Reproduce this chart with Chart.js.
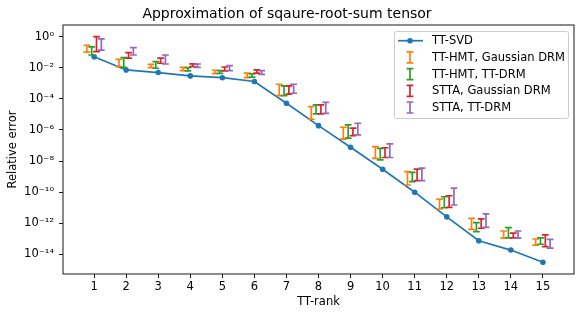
<!DOCTYPE html>
<html>
<head>
<meta charset="utf-8">
<script src="https://cdn.jsdelivr.net/npm/chart.js@4/dist/chart.umd.min.js"></script>
<style>
    html, body { margin: 0; padding: 0; background: #fff; }
    #chart { display: block; }
</style>
</head>
<body>
<canvas id="chart" width="582" height="317"></canvas>
<script>
const ranks = [1, 2, 3, 4, 5, 6, 7, 8, 9, 10, 11, 12, 13, 14, 15];

const ttSvd = [0.051, 7.2e-3, 4.9e-3, 3.0e-3, 2.3e-3, 1.3e-3, 5.2e-5, 1.9e-6, 7.7e-8, 3.0e-9, 1.0e-10, 2.6e-12, 7.5e-14, 1.9e-14, 3.1e-15];

// error bar ranges (low / high)
const hmtGaussLow  = [0.10, 0.0117, 0.0102, 0.0066, 0.0042, 0.0023, 1.6e-4, 4.9e-6, 2.6e-7, 1.5e-8, 2.9e-10, 8.3e-12, 4.1e-13, 1.1e-13, 4.0e-14];
const hmtGaussHigh = [0.28, 0.035, 0.0166, 0.0107, 0.0069, 0.0045, 8.7e-4, 3.2e-5, 1.5e-6, 8.5e-8, 2.1e-9, 3.6e-11, 2.1e-12, 3.2e-13, 9.8e-14];

const hmtTtLow  = [0.066, 0.0107, 0.0093, 0.0063, 0.0044, 0.0025, 1.6e-4, 1.07e-5, 3.0e-7, 1.2e-8, 4.8e-10, 1.0e-11, 2.9e-13, 1.17e-13, 4.5e-14];
const hmtTtHigh = [0.22, 0.045, 0.0245, 0.0102, 0.0066, 0.0040, 6.8e-4, 4.1e-5, 2.1e-6, 6.6e-8, 1.9e-9, 5.1e-11, 1.1e-12, 5.2e-13, 1.17e-13];

const sttaGaussLow  = [0.11, 0.041, 0.0195, 0.0117, 0.0063, 0.0045, 2.0e-4, 1.07e-5, 4.3e-7, 1.7e-8, 5.5e-10, 1.07e-11, 4.8e-13, 1.17e-13, 3.2e-14];
const sttaGaussHigh = [1.0, 0.093, 0.041, 0.018, 0.0112, 0.0072, 6.8e-4, 4.1e-5, 1.3e-6, 7.2e-8, 3.0e-9, 5.9e-11, 1.9e-12, 2.3e-13, 1.8e-13];

const sttaTtLow  = [0.135, 0.066, 0.0174, 0.0107, 0.0065, 0.0038, 2.3e-4, 1.17e-5, 4.8e-7, 1.7e-8, 5.5e-10, 1.5e-11, 5.5e-13, 1.1e-13, 2.5e-14];
const sttaTtHigh = [0.71, 0.195, 0.066, 0.0174, 0.0138, 0.0065, 8.7e-4, 6.0e-5, 2.7e-6, 1.26e-7, 3.5e-9, 1.8e-10, 4.0e-12, 3.2e-13, 9.3e-14];

const yTickValues = [1, 1e-2, 1e-4, 1e-6, 1e-8, 1e-10, 1e-12, 1e-14];
const yTickLabels = ['10⁰', '10⁻²', '10⁻⁴', '10⁻⁶', '10⁻⁸', '10⁻¹⁰', '10⁻¹²', '10⁻¹⁴'];

const FONT = 'DejaVu Sans';
const FS = 11.5;

const errorSeries = [
    { label: 'TT-HMT, Gaussian DRM', color: '#ff7f0e', offset: -0.225, low: hmtGaussLow, high: hmtGaussHigh },
    { label: 'TT-HMT, TT-DRM', color: '#2ca02c', offset: -0.075, low: hmtTtLow, high: hmtTtHigh },
    { label: 'STTA, Gaussian DRM', color: '#d62728', offset: 0.075, low: sttaGaussLow, high: sttaGaussHigh },
    { label: 'STTA, TT-DRM', color: '#9467bd', offset: 0.225, low: sttaTtLow, high: sttaTtHigh }
];

const errorBarPlugin = {
    id: 'errorBars',
    afterDatasetsDraw(chart) {
        const { ctx, scales: { x, y } } = chart;
        ctx.save();
        ctx.lineWidth = 1.7;
        errorSeries.forEach(s => {
            ctx.strokeStyle = s.color;
            ranks.forEach((r, i) => {
                const px = x.getPixelForValue(r + s.offset);
                const yLo = y.getPixelForValue(s.low[i]);
                const yHi = y.getPixelForValue(s.high[i]);
                ctx.beginPath();
                ctx.moveTo(px, yLo);
                ctx.lineTo(px, yHi);
                ctx.moveTo(px - 3.4, yLo);
                ctx.lineTo(px + 3.4, yLo);
                ctx.moveTo(px - 3.4, yHi);
                ctx.lineTo(px + 3.4, yHi);
                ctx.stroke();
            });
        });

        // axes frame
        const a = chart.chartArea;
        ctx.strokeStyle = '#000';
        ctx.lineWidth = 0.9;
        ctx.strokeRect(a.left, a.top, a.right - a.left, a.bottom - a.top);
        ctx.restore();
    }
};

const legendPlugin = {
    id: 'boxLegend',
    afterDraw(chart) {
        const ctx = chart.ctx;
        const a = chart.chartArea;
        const w = 174, h = 87;
        const x0 = a.right - 6 - w;
        const y0 = a.top + 6;
        ctx.save();
        ctx.beginPath();
        ctx.roundRect(x0 + 0.5, y0 + 0.5, w, h, 2);
        ctx.fillStyle = 'rgba(255,255,255,0.8)';
        ctx.fill();
        ctx.strokeStyle = '#cccccc';
        ctx.lineWidth = 1;
        ctx.stroke();

        const entries = [{ label: 'TT-SVD', color: '#1f77b4', line: true }].concat(errorSeries);
        ctx.font = `${FS}px "${FONT}"`;
        ctx.textBaseline = 'middle';
        entries.forEach((e, i) => {
            const cy = y0 + 9.7 + i * 16.7;
            const cx = x0 + 16;
            ctx.strokeStyle = e.color;
            ctx.fillStyle = e.color;
            ctx.lineWidth = 1.7;
            ctx.beginPath();
            if (e.line) {
                ctx.moveTo(x0 + 4, cy);
                ctx.lineTo(x0 + 29, cy);
                ctx.stroke();
                ctx.beginPath();
                ctx.arc(cx, cy, 2.8, 0, Math.PI * 2);
                ctx.fill();
            } else {
                ctx.moveTo(cx, cy - 5.5);
                ctx.lineTo(cx, cy + 5.5);
                ctx.moveTo(cx - 3.4, cy - 5.5);
                ctx.lineTo(cx + 3.4, cy - 5.5);
                ctx.moveTo(cx - 3.4, cy + 5.5);
                ctx.lineTo(cx + 3.4, cy + 5.5);
                ctx.stroke();
            }
            ctx.fillStyle = '#000';
            ctx.fillText(e.label, x0 + 38, cy + 0.5);
        });
        ctx.restore();
    }
};

new Chart(document.getElementById('chart'), {
    type: 'line',
    data: {
        datasets: [{
            label: 'TT-SVD',
            data: ranks.map((r, i) => ({ x: r, y: ttSvd[i] })),
            borderColor: '#1f77b4',
            backgroundColor: '#1f77b4',
            borderWidth: 1.7,
            pointRadius: 2.8,
            pointBorderWidth: 0,
            pointHoverRadius: 0,
            tension: 0
        }]
    },
    options: {
        responsive: false,
        animation: false,
        devicePixelRatio: 1,
        events: [],
        layout: { padding: { left: 0, right: 8, top: 0, bottom: 0 } },
        plugins: {
            legend: { display: false },
            tooltip: { enabled: false },
            title: {
                display: true,
                text: 'Approximation of sqaure-root-sum tensor',
                color: '#000',
                font: { family: FONT, size: 14, weight: 'normal' },
                padding: { top: 5.6, bottom: 2.6 }
            }
        },
        scales: {
            x: {
                type: 'linear',
                min: 0.03,
                max: 15.97,
                afterBuildTicks: s => { s.ticks = ranks.map(v => ({ value: v })); },
                afterFit: s => { s.height = 43; },
                ticks: {
                    color: '#000',
                    font: { family: FONT, size: FS },
                    padding: 2,
                    maxRotation: 0,
                    autoSkip: false
                },
                grid: { drawOnChartArea: false, tickLength: 4, tickColor: '#000', tickWidth: 0.9 },
                border: { display: false },
                title: {
                    display: true,
                    text: 'TT-rank',
                    color: '#000',
                    font: { family: FONT, size: FS },
                    padding: { top: 0, bottom: 7.8 }
                }
            },
            y: {
                type: 'logarithmic',
                min: 5.5e-16,
                max: 5.6,
                afterBuildTicks: s => { s.ticks = yTickValues.map(v => ({ value: v })); },
                afterFit: s => { s.width = 63; },
                ticks: {
                    color: '#000',
                    font: { family: FONT, size: FS },
                    padding: 5,
                    autoSkip: false,
                    callback: (v, i) => yTickLabels[i]
                },
                grid: { drawOnChartArea: false, tickLength: 4, tickColor: '#000', tickWidth: 0.9 },
                border: { display: false },
                title: {
                    display: true,
                    text: 'Relative error',
                    color: '#000',
                    font: { family: FONT, size: FS },
                    padding: { top: 6.1, bottom: 0 }
                }
            }
        }
    },
    plugins: [errorBarPlugin, legendPlugin]
});
</script>
</body>
</html>
